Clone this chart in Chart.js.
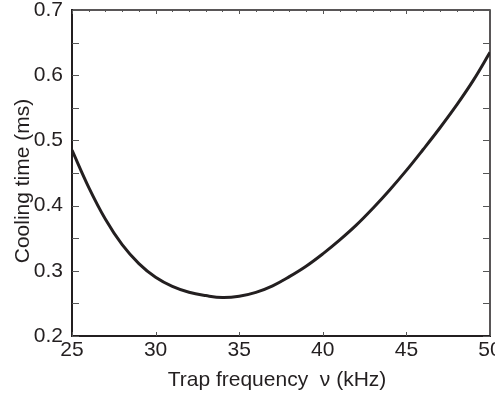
<!DOCTYPE html>
<html>
<head>
<meta charset="utf-8">
<script src="https://cdn.jsdelivr.net/npm/chart.js@4.4.0/dist/chart.umd.min.js"></script>
<style>
  html, body { margin: 0; padding: 0; background: #fff; overflow: hidden; }
</style>
</head>
<body>
<canvas id="coolingChart" width="495" height="397"></canvas>
<script>
// values
const trapFreq = [25, 26, 27, 28, 29, 30, 31, 32, 33, 34, 35, 36, 37,
                  38, 39, 40, 41, 42, 43, 44, 45, 46, 47, 48, 49, 50];
const coolingTime = [0.485, 0.428, 0.379, 0.340, 0.311, 0.290, 0.276, 0.267, 0.262, 0.259, 0.261, 0.267, 0.277,
                     0.291, 0.307, 0.326, 0.347, 0.370, 0.396, 0.424, 0.454, 0.486, 0.519, 0.554, 0.592, 0.635];

const xTickLabels = [25, 30, 35, 40, 45, 50];
const yTickLabels = [0.2, 0.3, 0.4, 0.5, 0.6, 0.7];
const xMinorTicks = [26, 27, 28, 29, 31, 32, 33, 34, 36, 37, 38, 39, 41, 42, 43, 44, 46, 47, 48, 49];
const yMinorTicks = [0.25, 0.35, 0.45, 0.55, 0.65];

const ink = '#231f20';
const fontFamily = '"Liberation Sans", Arial, Helvetica, sans-serif';

// frame top/right + inward tick marks + axis titles (they overlap the tick labels, so drawn by hand)
const frameTicks = {
    id: 'frameTicks',
    afterDraw(chart) {
        const { ctx, chartArea: a, scales: { x, y } } = chart;
        ctx.save();
        ctx.strokeStyle = ink;

        ctx.lineWidth = 1.5;
        ctx.beginPath();
        ctx.moveTo(a.left, a.top);
        ctx.lineTo(a.right, a.top);
        ctx.lineTo(a.right, a.bottom);
        ctx.stroke();

        ctx.lineWidth = 1;
        ctx.strokeStyle = '#555';
        ctx.beginPath();
        [...yTickLabels, ...yMinorTicks].forEach(v => {
            const py = Math.round(y.getPixelForValue(v)) + 0.5;
            ctx.moveTo(a.left, py); ctx.lineTo(a.left + 7, py);
            ctx.moveTo(a.right, py); ctx.lineTo(a.right - 7, py);
        });
        xTickLabels.forEach(v => {
            const px = Math.round(x.getPixelForValue(v)) + 0.5;
            ctx.moveTo(px, a.top); ctx.lineTo(px, a.top + 4);
            ctx.moveTo(px, a.bottom); ctx.lineTo(px, a.bottom - 4);
        });
        xMinorTicks.forEach(v => {
            const px = Math.round(x.getPixelForValue(v)) + 0.5;
            ctx.moveTo(px, a.top); ctx.lineTo(px, a.top + 2);
        });
        ctx.stroke();

        ctx.fillStyle = ink;
        ctx.font = '21px ' + fontFamily;
        ctx.textAlign = 'center';
        ctx.textBaseline = 'alphabetic';
        ctx.fillText('Trap frequency  \u03bd (kHz)', 277, 386);

        ctx.translate(28.5, 181);
        ctx.rotate(-Math.PI / 2);
        ctx.fillText('Cooling time (ms)', 0, 0);
        ctx.restore();
    }
};

new Chart(document.getElementById('coolingChart'), {
    type: 'line',
    data: {
        datasets: [{
            data: trapFreq.map((f, i) => ({ x: f, y: coolingTime[i] })),
            borderColor: ink,
            borderWidth: 3,
            pointRadius: 0,
            fill: false,
            tension: 0.4
        }]
    },
    options: {
        responsive: false,
        animation: false,
        layout: { padding: { top: 10, right: 5, left: 0, bottom: 0 } },
        plugins: { legend: { display: false }, tooltip: { enabled: false } },
        scales: {
            x: {
                type: 'linear',
                min: 25,
                max: 50,
                afterBuildTicks: s => { s.ticks = xTickLabels.map(v => ({ value: v })); },
                ticks: {
                    color: ink,
                    font: { family: fontFamily, size: 21 },
                    padding: 2,
                    maxRotation: 0,
                    autoSkip: false
                },
                grid: { display: false, drawTicks: false },
                border: { display: true, color: ink, width: 2 },
                afterFit: s => { s.height = 61; s.paddingLeft = 0; s.paddingRight = 0; }
            },
            y: {
                min: 0.2,
                max: 0.7,
                afterBuildTicks: s => { s.ticks = yTickLabels.map(v => ({ value: v })); },
                ticks: {
                    color: ink,
                    font: { family: fontFamily, size: 21 },
                    padding: 9,
                    callback: v => v.toFixed(1)
                },
                grid: { display: false, drawTicks: false },
                border: { display: true, color: ink, width: 2 },
                afterFit: s => { s.width = 72; s.paddingTop = 0; s.paddingBottom = 0; }
            }
        }
    },
    plugins: [frameTicks]
});
</script>
</body>
</html>
